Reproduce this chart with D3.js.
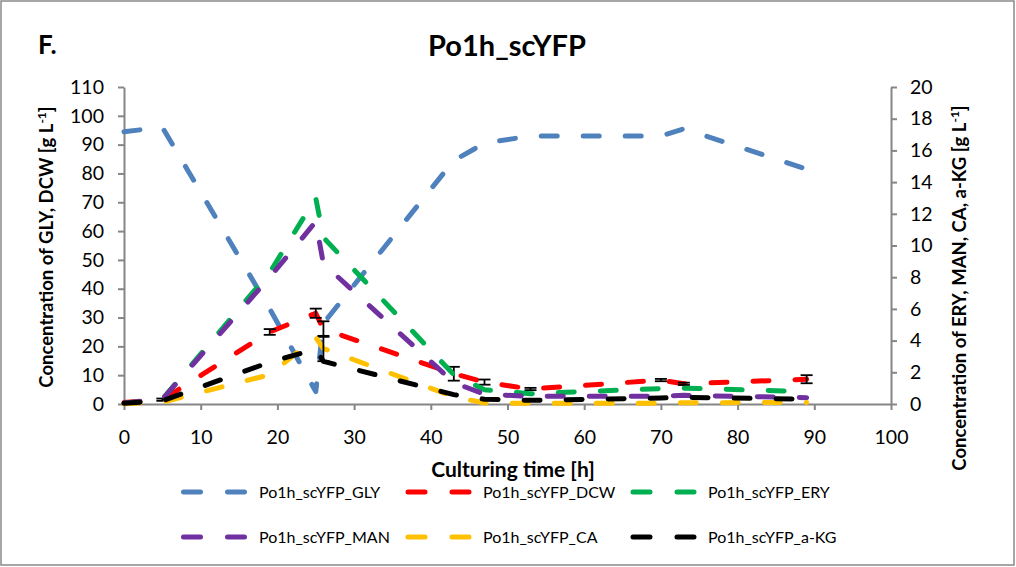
<!DOCTYPE html>
<html>
<head>
<meta charset="utf-8">
<script src="https://cdn.jsdelivr.net/npm/d3@7"></script>
<style>
  body { margin: 0; background: #fff; }
  svg text { font-family: Lato, "Open Sans", "Liberation Sans", sans-serif; fill: #000; }
</style>
</head>
<body>
<svg id="chart" width="1016" height="567"></svg>
<script>
// Sampling times [h]
const hours = [0, 5, 19, 25, 26, 43, 47, 53, 70, 73, 89];

// Primary axis series [g/L]
const gly = [94.5, 96, 33, 4.3, 28, 84.5, 90.5, 93, 93, 95.5, 81.5];
const dcw = [0.5, 1.5, 25, 31.5, 26, 10.5, 7.6, 5.2, 8.3, 7.0, 8.6];
const dcwErr = [0, 0.4, 1.0, 1.6, 2.7, 2.4, 0.9, 0.4, 0.4, 0.4, 1.4];

// Secondary axis series [g/L]
const ery = [0.05, 0.3, 8.3, 13.0, 10.5, 1.85, 0.9, 0.65, 0.97, 1.0, 0.78];
const man = [0.05, 0.3, 8.0, 11.5, 8.85, 1.35, 0.62, 0.48, 0.49, 0.55, 0.4];
const ca = [0.02, 0.12, 1.85, 4.2, 3.5, 0.46, 0.06, 0.05, 0.05, 0.08, 0.1];
const caErr = [0, 0, 0, 0, 0.8, 0, 0, 0, 0, 0, 0];
const akg = [0.05, 0.2, 2.64, 3.46, 2.69, 0.59, 0.3, 0.23, 0.38, 0.42, 0.3];

// Axis ticks
const xTicks = [0, 10, 20, 30, 40, 50, 60, 70, 80, 90, 100];
const yLeftTicks = [0, 10, 20, 30, 40, 50, 60, 70, 80, 90, 100, 110];
const yRightTicks = [0, 2, 4, 6, 8, 10, 12, 14, 16, 18, 20];

const seriesNames = ["Po1h_scYFP_GLY", "Po1h_scYFP_DCW", "Po1h_scYFP_ERY",
                     "Po1h_scYFP_MAN", "Po1h_scYFP_CA", "Po1h_scYFP_a-KG"];
const seriesColors = ["#4f81bd", "#ff0000", "#00b050", "#7030a0", "#ffc000", "#000000"];

const svg = d3.select("#chart");
const W = 1016, H = 567;
const m = { left: 124, right: 125, top: 87, bottom: 163 };
const pw = W - m.left - m.right, ph = H - m.top - m.bottom;

// outer frame
svg.append("rect").attr("x", 1).attr("y", 1).attr("width", W - 3).attr("height", H - 3)
  .attr("fill", "#fff").attr("stroke", "#898989").attr("stroke-width", 1.5);

const x = d3.scaleLinear().domain([0, 100]).range([m.left, m.left + pw]);
const yL = d3.scaleLinear().domain([0, 110]).range([m.top + ph, m.top]);
const yR = d3.scaleLinear().domain([0, 20]).range([m.top + ph, m.top]);

const axisColor = "#868686";
function styleAxis(g) {
  g.select(".domain").attr("stroke", axisColor).attr("stroke-width", 2);
  g.selectAll(".tick line").attr("stroke", axisColor).attr("stroke-width", 2);
  g.selectAll(".tick text").attr("font-size", 19.5);
}

svg.append("g").attr("transform", `translate(0,${m.top + ph})`)
  .call(d3.axisBottom(x).tickValues(xTicks).tickSize(6).tickSizeOuter(0).tickPadding(20))
  .call(styleAxis);
svg.append("g").attr("transform", `translate(${m.left},0)`)
  .call(d3.axisLeft(yL).tickValues(yLeftTicks).tickSize(6).tickSizeOuter(0).tickPadding(14))
  .call(styleAxis);
svg.append("g").attr("transform", `translate(${m.left + pw},0)`)
  .call(d3.axisRight(yR).tickValues(yRightTicks).tickSize(6).tickSizeOuter(0).tickPadding(13))
  .call(styleAxis);

// titles
svg.append("text").attr("x", 38).attr("y", 54).attr("font-size", 26).attr("font-weight", 700).text("F.");
svg.append("text").attr("x", 507).attr("y", 56).attr("text-anchor", "middle")
  .attr("font-size", 29).attr("font-weight", 700).text("Po1h_scYFP");
svg.append("text").attr("x", 513).attr("y", 477).attr("text-anchor", "middle")
  .attr("font-size", 21).attr("font-weight", 700).text("Culturing time [h]");

function axisTitle(cx, cy, label) {
  const t = svg.append("text").attr("transform", `translate(${cx},${cy}) rotate(-90)`)
    .attr("text-anchor", "middle").attr("font-size", 18.5).attr("font-weight", 700);
  t.append("tspan").text(label + " [g L");
  t.append("tspan").attr("dy", -7).attr("font-size", 12).text("-1");
  t.append("tspan").attr("dy", 7).text("]");
}
axisTitle(53, 247, "Concentration of GLY, DCW");
axisTitle(966, 288, "Concentration of ERY, MAN, CA, a-KG");

// data lines
const dash = "16,26";
const series = [
  { v: gly, y: yL, c: seriesColors[0] },
  { v: dcw, y: yL, c: seriesColors[1], err: dcwErr },
  { v: ery, y: yR, c: seriesColors[2] },
  { v: man, y: yR, c: seriesColors[3] },
  { v: ca, y: yR, c: seriesColors[4], err: caErr },
  { v: akg, y: yR, c: seriesColors[5] }
];

series.forEach(s => {
  const pts = hours.map((h, i) => [h, s.v[i], s.err ? s.err[i] : 0]);
  const line = d3.line().x(d => x(d[0])).y(d => s.y(d[1]));
  svg.append("path").datum(pts).attr("d", line)
    .attr("fill", "none").attr("stroke", s.c).attr("stroke-width", 5)
    .attr("stroke-dasharray", dash).attr("stroke-linecap", "round").attr("stroke-linejoin", "round");
  if (s.err) {
    const eb = svg.append("g").attr("stroke", "#000").attr("stroke-width", 1.8);
    pts.filter(d => d[2] > 0).forEach(d => {
      const cx = x(d[0]), top = s.y(d[1] + d[2]), bot = s.y(d[1] - d[2]);
      eb.append("line").attr("x1", cx).attr("x2", cx).attr("y1", top).attr("y2", bot);
      eb.append("line").attr("x1", cx - 6).attr("x2", cx + 6).attr("y1", top).attr("y2", top);
      eb.append("line").attr("x1", cx - 6).attr("x2", cx + 6).attr("y1", bot).attr("y2", bot);
    });
  }
});

// legend
const legX = [183.5, 408, 633];
const legTextX = [259, 483, 708];
const legY = [492, 537];
seriesNames.forEach((name, i) => {
  const col = i % 3, row = Math.floor(i / 3);
  const g = svg.append("g");
  g.append("line").attr("x1", legX[col]).attr("x2", legX[col] + 61)
    .attr("y1", legY[row]).attr("y2", legY[row])
    .attr("stroke", seriesColors[i]).attr("stroke-width", 5)
    .attr("stroke-dasharray", "17,27").attr("stroke-linecap", "round");
  g.append("text").attr("x", legTextX[col]).attr("y", legY[row] + 6)
    .attr("font-size", 16).text(name);
});
</script>
</body>
</html>
